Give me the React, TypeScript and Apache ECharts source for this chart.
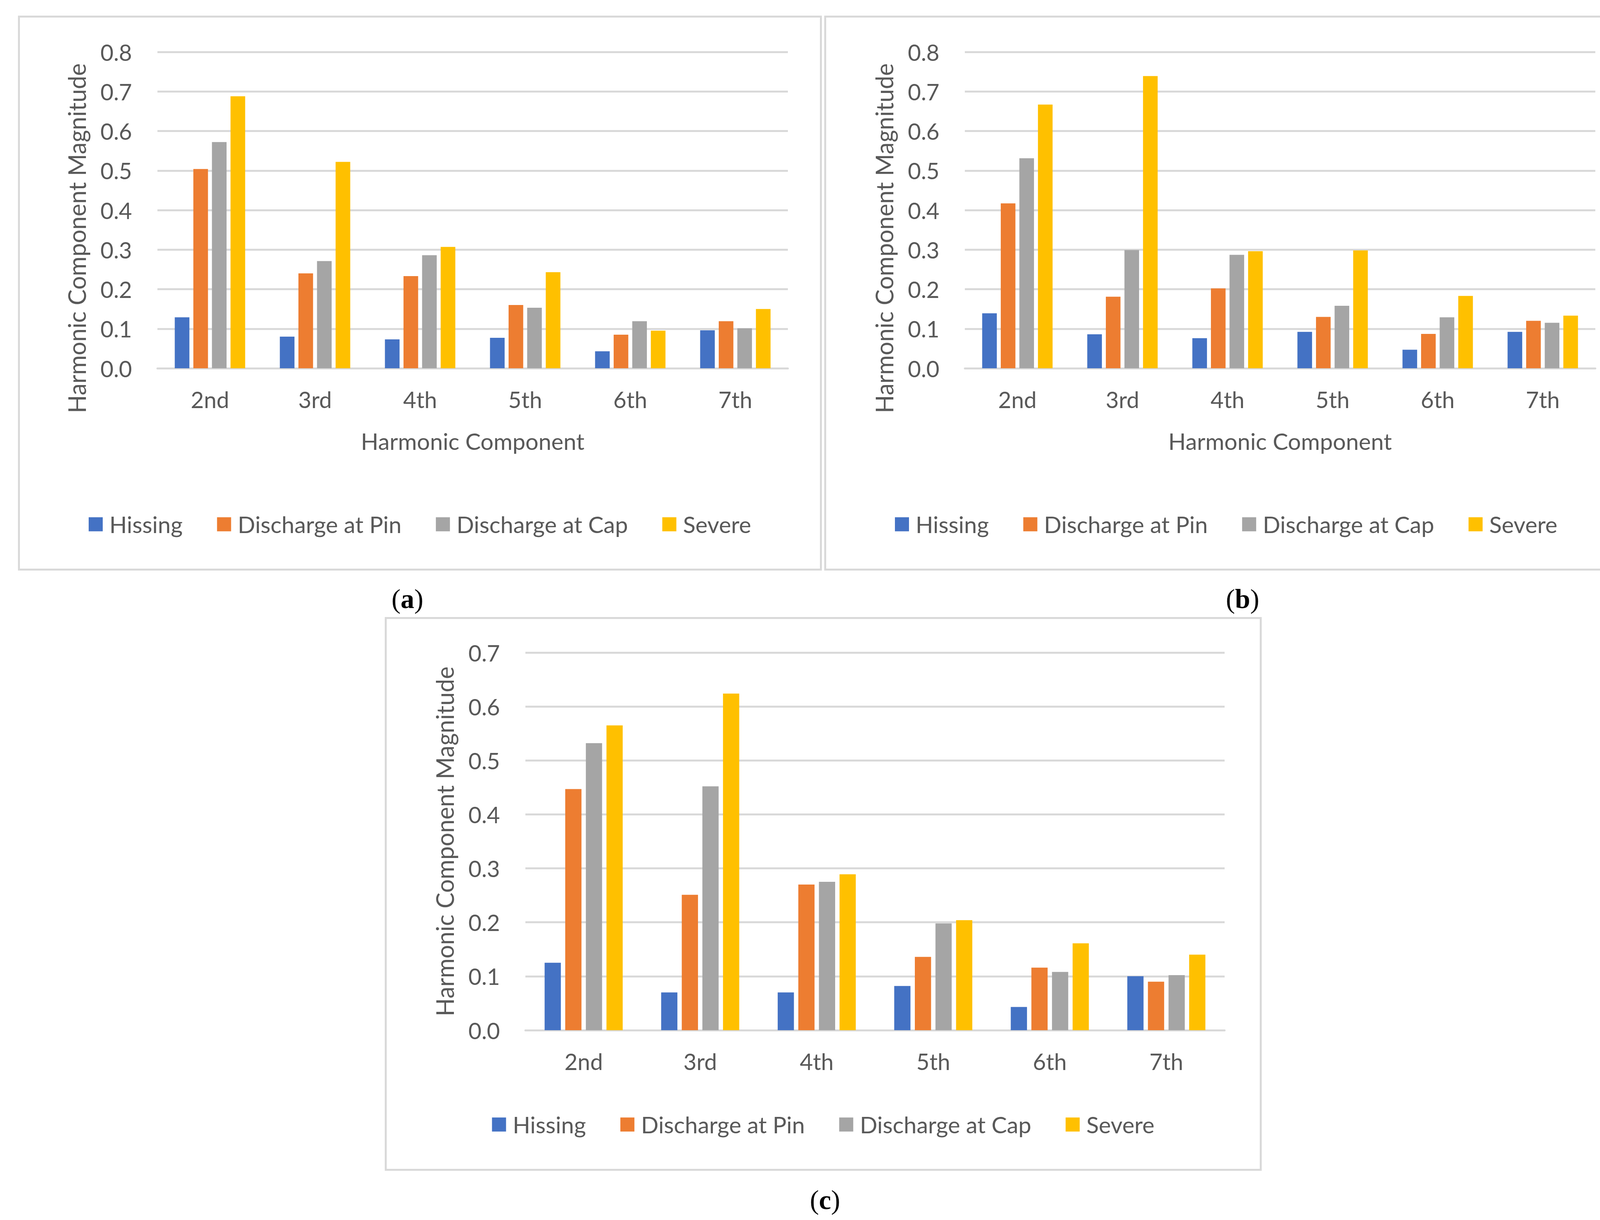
import { useEffect, useRef } from 'react';
import * as echarts from 'echarts';

const categories = ['2nd', '3rd', '4th', '5th', '6th', '7th'];
const seriesNames = ['Hissing', 'Discharge at Pin', 'Discharge at Cap', 'Severe'];
const colors = ['#4472C4', '#ED7D31', '#A5A5A5', '#FFC000'];

// panel (a)
const hissingA = [0.129, 0.08, 0.073, 0.077, 0.043, 0.096];
const pinA = [0.504, 0.24, 0.233, 0.16, 0.085, 0.119];
const capA = [0.572, 0.271, 0.286, 0.153, 0.119, 0.101];
const severeA = [0.688, 0.522, 0.307, 0.243, 0.095, 0.15];

// panel (b)
const hissingB = [0.139, 0.086, 0.076, 0.092, 0.047, 0.092];
const pinB = [0.417, 0.181, 0.202, 0.13, 0.087, 0.12];
const capB = [0.531, 0.299, 0.287, 0.158, 0.129, 0.115];
const severeB = [0.667, 0.739, 0.296, 0.298, 0.183, 0.133];

// panel (c)
const hissingC = [0.125, 0.07, 0.07, 0.082, 0.043, 0.1];
const pinC = [0.447, 0.251, 0.27, 0.136, 0.116, 0.09];
const capC = [0.532, 0.452, 0.275, 0.198, 0.108, 0.102];
const severeC = [0.565, 0.624, 0.289, 0.204, 0.161, 0.14];

const FONT = 'Lato, "Open Sans", sans-serif';
const TEXT = '#595959';
const GRID_LINE = '#D9D9D9';

type PanelProps = {
  left: number;
  top: number;
  width: number;
  height: number;
  boxHeight: number;
  grid: { left: number; top: number; width: number; height: number };
  legendTop: number;
  yMax: number;
  data: number[][];
  xName?: string;
  yNameShift: number;
  caption: string;
  captionX: number;
  captionY: number;
};

function Panel(props: PanelProps) {
  const chartRef = useRef<HTMLDivElement>(null);

  useEffect(() => {
    if (!chartRef.current) return;
    const chart = echarts.init(chartRef.current, undefined, { renderer: 'svg' });

    const option: any = {
      animation: false,
      textStyle: { fontFamily: FONT },
      graphic: [
        {
          type: 'rect',
          z: -10,
          shape: { x: 2.5, y: 2.5, width: props.width - 5, height: props.boxHeight - 5 },
          style: { fill: '#FFFFFF', stroke: GRID_LINE, lineWidth: 5 },
        },
        {
          type: 'text',
          x: props.captionX,
          y: props.captionY,
          style: {
            text: `{p|(}{b|${props.caption}}{p|)}`,
            align: 'center',
            verticalAlign: 'middle',
            rich: {
              p: { fontFamily: '"Liberation Serif", serif', fontSize: 70, fill: '#000' },
              b: { fontFamily: '"Liberation Serif", serif', fontSize: 70, fontWeight: 'bold', fill: '#000' },
            },
          },
        },
      ],
      grid: { ...props.grid, containLabel: false },
      legend: {
        data: seriesNames,
        top: props.legendTop,
        left: 'center',
        padding: 0,
        icon: 'rect',
        itemWidth: 36,
        itemHeight: 36,
        itemGap: 88,
        textStyle: { fontFamily: FONT, fontSize: 59, color: TEXT, padding: [0, 0, 0, 12] },
      },
      xAxis: {
        type: 'category',
        data: categories,
        axisLine: { lineStyle: { color: GRID_LINE, width: 5 } },
        axisTick: { show: false },
        axisLabel: { fontFamily: FONT, fontSize: 58, color: TEXT, margin: 50 },
        name: props.xName,
        nameLocation: 'middle',
        nameGap: 157,
        nameTextStyle: { fontFamily: FONT, fontSize: 59, color: TEXT },
      },
      yAxis: {
        type: 'value',
        min: 0,
        max: props.yMax,
        interval: 0.1,
        axisLine: { show: false },
        axisTick: { show: false },
        splitLine: { lineStyle: { color: GRID_LINE, width: 5 } },
        axisLabel: {
          fontFamily: FONT,
          fontSize: 58,
          color: TEXT,
          margin: 65,
          formatter: (v: number) => v.toFixed(1),
        },
        name: 'Harmonic Component Magnitude',
        nameLocation: 'middle',
        nameRotate: 90,
        nameGap: 176,
        nameTextStyle: {
          fontFamily: FONT,
          fontSize: 61,
          color: TEXT,
          padding: [0, props.yNameShift * 2, 0, 0],
        },
      },
      series: seriesNames.map((name, i) => ({
        name,
        type: 'bar',
        data: props.data[i],
        barGap: '27%',
        barCategoryGap: '33%',
        itemStyle: { color: colors[i] },
      })),
    };

    chart.setOption(option);
    return () => {
      chart.dispose();
    };
  }, []);

  return (
    <div
      ref={chartRef}
      style={{
        position: 'absolute',
        left: props.left,
        top: props.top,
        width: props.width,
        height: props.height,
      }}
    />
  );
}

export default function App() {
  return (
    <div style={{ position: 'absolute', left: 0, top: 0, width: 4220, height: 3124, background: '#fff' }}>
      <Panel
        left={46}
        top={40}
        width={2058}
        height={1560}
        boxHeight={1421}
        grid={{ left: 357, top: 93, width: 1614, height: 810 }}
        legendTop={1273}
        yMax={0.8}
        data={[hissingA, pinA, capA, severeA]}
        xName="Harmonic Component"
        yNameShift={72}
        caption="a"
        captionX={997}
        captionY={1493}
      />
      <Panel
        left={2110}
        top={40}
        width={2058}
        height={1560}
        boxHeight={1421}
        grid={{ left: 360, top: 93, width: 1614, height: 810 }}
        legendTop={1273}
        yMax={0.8}
        data={[hissingB, pinB, capB, severeB]}
        xName="Harmonic Component"
        yNameShift={72}
        caption="b"
        captionX={1071}
        captionY={1493}
      />
      <Panel
        left={985}
        top={1580}
        width={2245}
        height={1544}
        boxHeight={1418}
        grid={{ left: 360, top: 91, width: 1790, height: 967 }}
        legendTop={1270}
        yMax={0.7}
        data={[hissingC, pinC, capC, severeC]}
        yNameShift={0}
        caption="c"
        captionX={1127}
        captionY={1492}
      />
    </div>
  );
}
